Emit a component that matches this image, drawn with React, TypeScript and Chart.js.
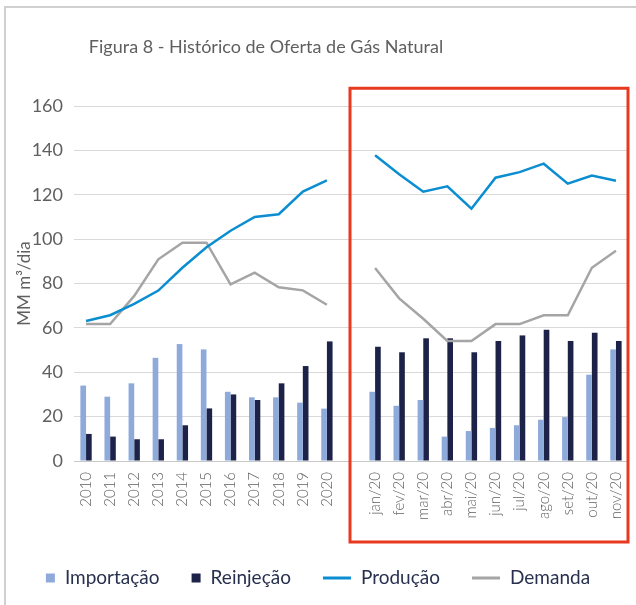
import React, { useEffect, useRef } from 'react';
import { Chart, registerables } from 'chart.js';
Chart.register(...registerables);

const TITLE = 'Figura 8 - Histórico de Oferta de Gás Natural';
const Y_TITLE = 'MM m³/dia';
const categories = ['2010', '2011', '2012', '2013', '2014', '2015', '2016', '2017', '2018', '2019', '2020', '',
  'jan/20', 'fev/20', 'mar/20', 'abr/20', 'mai/20', 'jun/20', 'jul/20', 'ago/20', 'set/20', 'out/20', 'nov/20'];
const importacao = [34, 29, 35, 46.5, 52.7, 50.3, 31.2, 28.7, 28.7, 26.3, 23.6, null,
  31.2, 24.9, 27.5, 11, 13.5, 14.9, 16.1, 18.6, 19.8, 38.9, 50.3];
const reinjecao = [12.2, 11, 9.8, 9.8, 16.1, 23.7, 30, 27.5, 35, 42.8, 53.9, null,
  51.5, 49, 55.3, 55.3, 49, 54.1, 56.6, 59.2, 54.1, 57.8, 54.1];
const producao = [63.1, 65.7, 70.8, 76.8, 87.1, 96.3, 103.8, 110, 111.2, 121.4, 126.5, null,
  137.8, 129.2, 121.4, 123.8, 113.7, 127.7, 130.2, 134, 125, 128.7, 126.3];
const demanda = [61.7, 61.7, 74.4, 90.9, 98.4, 98.4, 79.6, 84.9, 78.3, 76.9, 70.4, null,
  87, 73.3, 64.1, 54.1, 54.1, 61.7, 61.7, 65.7, 65.7, 87.1, 94.8];
const yMin = 0;
const yMax = 160;
const yStep = 20;
const highlightFromIndex = 11;

const FONT = 'Lato, "Open Sans", sans-serif';
const GRAY = '#5f5f5f';
const LEGEND_COLOR = '#28304f';

const decorPlugin = {
  id: 'decor',
  beforeDraw(chart: any) {
    const ctx = chart.ctx;
    ctx.save();
    ctx.fillStyle = '#ffffff';
    ctx.fillRect(0, 0, chart.width, chart.height);
    ctx.strokeStyle = '#d0d0d0';
    ctx.lineWidth = 2;
    ctx.beginPath();
    ctx.moveTo(5, chart.height);
    ctx.lineTo(5, 7);
    ctx.lineTo(chart.width, 7);
    ctx.stroke();
    // title
    ctx.fillStyle = GRAY;
    ctx.font = `18px ${FONT}`;
    ctx.textAlign = 'center';
    ctx.textBaseline = 'middle';
    ctx.fillText(TITLE, 266, 47);
    ctx.restore();
  },
  afterDraw(chart: any) {
    const ctx = chart.ctx;
    const x = chart.scales.x;
    const y = chart.scales.y;
    const area = chart.chartArea;
    ctx.save();
    // highlight box
    const left = x.getPixelForValue(highlightFromIndex) - 1;
    const right = area.right;
    const top = y.getPixelForValue(168);
    const bottom = area.bottom + 81;
    ctx.strokeStyle = '#e8381f';
    ctx.lineWidth = 3;
    ctx.strokeRect(left, top, right - left, bottom - top);
    // legend
    ctx.font = `19px ${FONT}`;
    ctx.textBaseline = 'middle';
    ctx.textAlign = 'left';
    const ly = 578;
    const items = chart.data.datasets.map((d: any) => {
      const isLine = d.type === 'line';
      const mw = isLine ? 28 : 9;
      const tw = ctx.measureText(d.label).width;
      return { d, isLine, mw, tw, w: mw + 10 + tw };
    });
    const gap = 32;
    const total = items.reduce((s: number, it: any) => s + it.w, 0) + gap * (items.length - 1);
    let cx = chart.width / 2 - total / 2;
    items.forEach((it: any) => {
      if (it.isLine) {
        ctx.strokeStyle = it.d.borderColor;
        ctx.lineWidth = 3;
        ctx.beginPath();
        ctx.moveTo(cx, ly);
        ctx.lineTo(cx + it.mw, ly);
        ctx.stroke();
      } else {
        ctx.fillStyle = it.d.backgroundColor;
        ctx.fillRect(cx, ly - 4.5, 9, 9);
      }
      ctx.fillStyle = LEGEND_COLOR;
      ctx.fillText(it.d.label, cx + it.mw + 10, ly);
      cx += it.w + gap;
    });
    ctx.restore();
  },
};

export default function App() {
  const ref = useRef<HTMLCanvasElement>(null);
  useEffect(() => {
    document.body.style.margin = '0';
    const chart = new Chart(ref.current!, {
      type: 'bar',
      data: {
        labels: categories,
        datasets: [
          { type: 'bar', label: 'Importação', data: importacao, backgroundColor: '#8eaadb', order: 2,
            categoryPercentage: 0.47, barPercentage: 1 },
          { type: 'bar', label: 'Reinjeção', data: reinjecao, backgroundColor: '#1d2248', order: 2,
            categoryPercentage: 0.47, barPercentage: 1 },
          { type: 'line', label: 'Produção', data: producao, borderColor: '#0b8ed1', backgroundColor: '#0b8ed1',
            borderWidth: 2.5, pointRadius: 0, spanGaps: false, tension: 0, order: 1 },
          { type: 'line', label: 'Demanda', data: demanda, borderColor: '#a5a5a5', backgroundColor: '#a5a5a5',
            borderWidth: 2.5, pointRadius: 0, spanGaps: false, tension: 0, order: 1 },
        ] as any,
      },
      options: {
        responsive: false,
        animation: false,
        devicePixelRatio: 1,
        layout: { padding: { top: 106, right: 8, bottom: 0, left: 0 } },
        plugins: { legend: { display: false }, title: { display: false }, tooltip: { enabled: false } },
        scales: {
          x: {
            grid: { display: false, drawTicks: false },
            border: { display: false },
            ticks: {
              autoSkip: false, maxRotation: 90, minRotation: 90, padding: 11,
              color: GRAY, font: { family: FONT, size: 15, weight: '300' },
            },
            afterFit(scale: any) {
              scale.height = 144;
              scale.paddingLeft = 0;
              scale.paddingRight = 0;
            },
          },
          y: {
            min: yMin, max: yMax,
            grid: {
              drawTicks: false,
              color: (c: any) => (c.tick && c.tick.value === 0 ? '#c8c8c8' : '#d9d9d9'),
              lineWidth: 1,
            },
            border: { display: false },
            ticks: { stepSize: yStep, padding: 11, color: GRAY, font: { family: FONT, size: 18 } },
            title: {
              display: true, text: Y_TITLE, color: GRAY,
              font: { family: FONT, size: 17 }, padding: { top: 14, bottom: 0 },
            },
            afterFit(scale: any) {
              scale.width = 74;
              scale.paddingTop = 0;
              scale.paddingBottom = 0;
            },
          },
        },
      },
      plugins: [decorPlugin],
    });
    return () => chart.destroy();
  }, []);
  return (
    <div style={{ width: 636, height: 605 }}>
      <canvas ref={ref} width={636} height={605} />
    </div>
  );
}
